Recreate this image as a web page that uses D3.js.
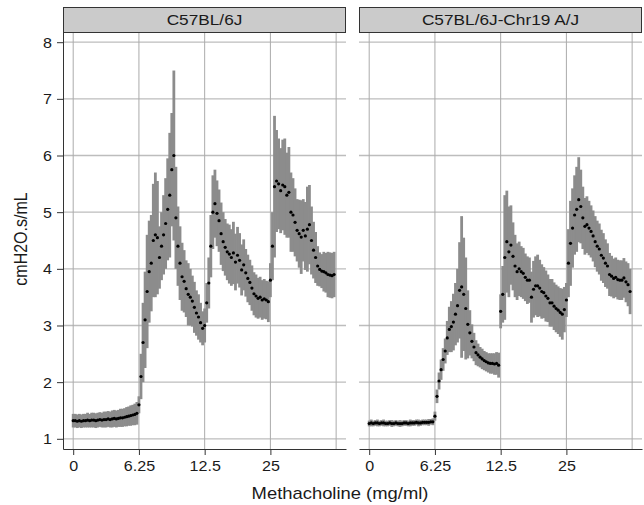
<!DOCTYPE html>
<html>
<head>
<meta charset="utf-8">
<script src="https://cdn.jsdelivr.net/npm/d3@7"></script>
<style>
  body { margin: 0; background: #fff; }
  text { font-family: "Liberation Sans", Arial, Helvetica, sans-serif; fill: #1a1a1a; }
</style>
</head>
<body>
<div id="chart"></div>
<script>
// Airway resistance traces, 32 readings per methacholine dose
const doseLabels = ["0", "6.25", "12.5", "25"];
const panelTitles = ["C57BL/6J", "C57BL/6J-Chr19 A/J"];
const yTicks = [1, 2, 3, 4, 5, 6, 7, 8];
const readingsPerDose = 32;

const b6Mean = [
  1.32,1.32,1.31,1.32,1.31,1.32,1.32,1.33,1.32,1.33,1.33,1.32,1.33,1.34,1.33,1.34,1.34,1.35,1.34,1.35,1.36,1.35,1.36,1.37,1.37,1.38,1.39,1.40,1.41,1.42,1.43,1.45,
  1.6,2.1,2.7,3.1,3.6,3.95,4.1,4.5,4.6,4.55,4.2,4.4,4.6,4.8,5.05,5.3,5.75,6.0,4.9,4.4,4.1,3.86,3.78,3.65,3.55,3.5,3.43,3.32,3.22,3.15,3.05,2.95,
  3.0,3.4,3.75,4.4,5.0,5.15,4.98,4.85,4.62,4.48,4.38,4.3,4.26,4.2,4.28,4.12,4.24,4.15,3.98,4.07,3.93,3.83,3.76,3.66,3.56,3.52,3.48,3.5,3.45,3.47,3.45,3.42,
  3.8,4.4,5.45,5.55,5.5,5.38,5.48,5.45,5.3,5.35,5.0,4.95,4.82,4.68,4.62,4.56,4.68,4.58,4.7,4.78,4.5,4.33,4.2,4.05,3.99,3.96,3.95,3.93,3.9,3.89,3.88,3.9
];
const b6Sd = [
  0.12,0.12,0.12,0.12,0.12,0.12,0.12,0.13,0.12,0.13,0.13,0.13,0.13,0.13,0.13,0.14,0.14,0.14,0.14,0.15,0.15,0.15,0.15,0.16,0.16,0.16,0.17,0.17,0.18,0.18,0.19,0.2,
  0.15,0.4,0.7,0.85,1.0,0.9,0.85,1.0,1.1,1.0,0.55,0.6,0.7,0.8,0.9,1.1,1.0,1.5,0.9,0.7,0.65,0.6,0.55,0.5,0.55,0.5,0.45,0.45,0.4,0.4,0.35,0.3,
  0.3,0.35,0.45,0.55,0.65,0.6,0.58,0.55,0.55,0.52,0.5,0.5,0.52,0.5,0.55,0.5,0.5,0.48,0.45,0.45,0.42,0.42,0.4,0.4,0.38,0.38,0.36,0.36,0.35,0.35,0.34,0.36,
  0.3,0.6,1.25,0.9,0.8,0.75,0.8,0.85,0.75,0.8,0.7,0.65,0.6,0.55,0.6,0.65,0.55,0.6,0.75,0.7,0.6,0.5,0.45,0.35,0.3,0.3,0.35,0.35,0.4,0.4,0.4,0.4
];
const chr19Mean = [
  1.27,1.28,1.27,1.28,1.28,1.27,1.28,1.28,1.27,1.27,1.28,1.27,1.27,1.28,1.27,1.27,1.27,1.28,1.28,1.27,1.28,1.28,1.28,1.29,1.28,1.28,1.29,1.29,1.29,1.29,1.3,1.3,
  1.4,1.75,2.02,2.22,2.4,2.55,2.78,2.93,2.98,3.06,3.2,3.35,3.62,3.68,3.55,3.3,3.02,2.87,2.72,2.62,2.52,2.48,2.44,2.41,2.38,2.36,2.34,2.33,2.33,2.32,2.33,2.3,
  3.25,3.55,4.2,4.48,4.3,4.42,4.22,4.05,3.95,4.0,3.95,3.92,3.85,3.8,3.8,3.5,3.64,3.7,3.7,3.66,3.6,3.58,3.52,3.48,3.4,3.4,3.34,3.3,3.27,3.23,3.2,3.28,
  3.45,4.1,4.45,4.72,4.95,5.05,5.22,5.1,4.9,4.75,4.78,4.72,4.66,4.58,4.48,4.4,4.35,4.24,4.19,4.1,4.05,3.9,3.87,3.83,3.85,3.81,3.8,3.8,3.84,3.77,3.72,3.6
];
const chr19Sd = [
  0.05,0.06,0.05,0.05,0.06,0.05,0.05,0.06,0.05,0.05,0.05,0.06,0.05,0.05,0.05,0.06,0.05,0.05,0.05,0.05,0.06,0.05,0.05,0.05,0.06,0.05,0.05,0.05,0.05,0.06,0.05,0.06,
  0.08,0.12,0.15,0.18,0.2,0.22,0.3,0.4,0.45,0.5,0.55,0.65,0.85,1.25,1.0,0.9,0.6,0.4,0.3,0.25,0.22,0.2,0.18,0.18,0.17,0.17,0.17,0.18,0.18,0.19,0.2,0.22,
  0.3,0.5,1.1,0.9,0.8,0.7,0.6,0.55,0.5,0.48,0.45,0.45,0.42,0.42,0.4,0.45,0.5,0.52,0.55,0.5,0.48,0.45,0.45,0.42,0.42,0.42,0.42,0.42,0.42,0.43,0.45,0.4,
  0.3,0.6,0.75,0.7,0.7,0.75,0.75,0.65,0.55,0.5,0.5,0.48,0.46,0.45,0.45,0.45,0.45,0.45,0.44,0.42,0.4,0.38,0.36,0.35,0.35,0.35,0.35,0.35,0.35,0.36,0.38,0.4
];

const panels = [
  { title: panelTitles[0], mean: b6Mean, sd: b6Sd, left: 63, right: 346 },
  { title: panelTitles[1], mean: chr19Mean, sd: chr19Sd, left: 359, right: 642 }
];

const width = 644, height = 505;
const stretch = 1.15;   // the figure text is a little wide
const stripTop = 7, stripBottom = 32, plotBottom = 449;

const svg = d3.select("#chart").append("svg")
    .attr("width", width)
    .attr("height", height);

const y = d3.scaleLinear().domain([0.82, 8.18]).range([plotBottom, stripBottom]);

function wideText(sel, x, yy, str, size, anchor, rotate) {
    return sel.append("text")
        .attr("transform", `translate(${x},${yy}) scale(${stretch},1)` + (rotate ? " rotate(-90)" : ""))
        .attr("text-anchor", anchor)
        .style("font-size", size + "px")
        .text(str);
}

panels.forEach((p, pi) => {
    const x = d3.scaleLinear().domain([-0.155, 4.15]).range([p.left, p.right]);
    const g = svg.append("g");

    // grid
    g.selectAll(".hgrid").data(yTicks).enter().append("line")
        .attr("x1", p.left).attr("x2", p.right)
        .attr("y1", d => y(d)).attr("y2", d => y(d))
        .style("stroke", "#bdbdbd").style("stroke-width", 1.3);
    g.selectAll(".vgrid").data([0, 1, 2, 3, 4]).enter().append("line")
        .attr("x1", d => x(d)).attr("x2", d => x(d))
        .attr("y1", stripBottom).attr("y2", plotBottom)
        .style("stroke", "#ababab").style("stroke-width", 1);

    // strip
    g.append("rect")
        .attr("x", p.left + 0.5).attr("y", stripTop + 0.5)
        .attr("width", p.right - p.left - 1).attr("height", stripBottom - stripTop)
        .style("fill", "#cbcbcb").style("stroke", "#333").style("stroke-width", 1);
    wideText(g, (p.left + p.right) / 2, 25, p.title, 15, "middle");

    // data: sd bars close enough to merge into a band, then the means
    const pts = p.mean.map((m, i) => ({ t: i / readingsPerDose, m: m, s: p.sd[i] }));
    g.selectAll(".err").data(pts).enter().append("line")
        .attr("x1", d => x(d.t)).attr("x2", d => x(d.t))
        .attr("y1", d => y(d.m - d.s)).attr("y2", d => y(d.m + d.s))
        .style("stroke", "#8c8c8c").style("stroke-width", 2.8);
    g.selectAll(".pt").data(pts).enter().append("circle")
        .attr("cx", d => x(d.t)).attr("cy", d => y(d.m))
        .attr("r", 1.6)
        .style("fill", "#000");

    // x axis
    const xAxis = d3.axisBottom(x)
        .tickValues([0, 1, 2, 3])
        .tickFormat(d => doseLabels[d])
        .tickSize(6)
        .tickSizeOuter(0);
    const ax = g.append("g")
        .attr("transform", `translate(0,${plotBottom})`)
        .call(xAxis);
    ax.select(".domain").style("stroke", "#333");
    ax.selectAll(".tick line").style("stroke", "#333");
    ax.selectAll(".tick text").remove();
    ax.selectAll(".tick").each(function(d) {
        wideText(d3.select(this), 0, 22, doseLabels[d], 14, "middle");
    });

    // y axis only on the first panel
    if (pi === 0) {
        const yAxis = d3.axisLeft(y).tickValues(yTicks).tickSize(6).tickSizeOuter(0);
        const ay = g.append("g")
            .attr("transform", `translate(${p.left},0)`)
            .call(yAxis);
        ay.select(".domain").style("stroke", "#333");
        ay.selectAll(".tick line").style("stroke", "#333");
        ay.selectAll(".tick text").remove();
        ay.selectAll(".tick").each(function(d) {
            wideText(d3.select(this), -11, 5, d, 14, "end");
        });
    }
});

// axis titles
wideText(svg, 340, 499, "Methacholine (mg/ml)", 16, "middle");
wideText(svg, 27, 239, "cmH2O.s/mL", 16, "middle", true);
</script>
</body>
</html>
